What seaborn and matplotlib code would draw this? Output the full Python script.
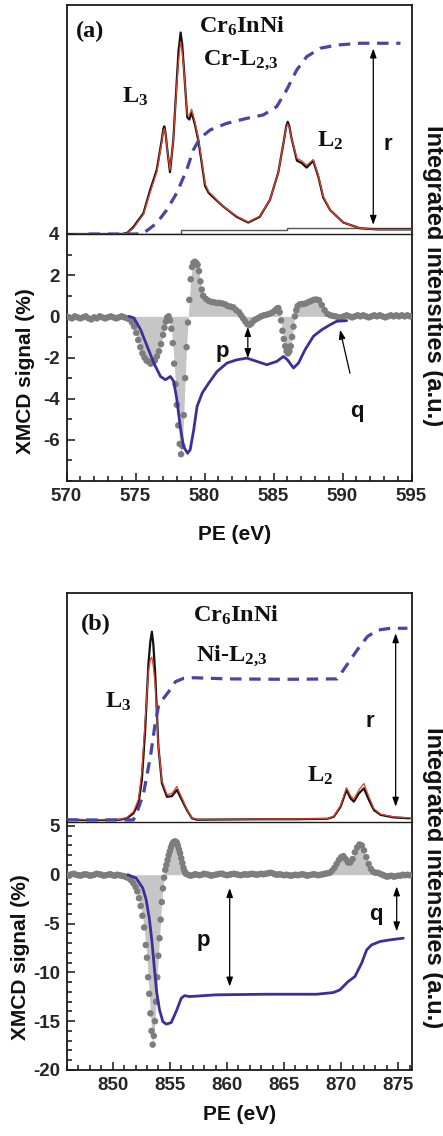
import matplotlib
matplotlib.use("Agg")
import matplotlib.pyplot as plt
from matplotlib.ticker import MultipleLocator, FixedLocator
import seaborn as sns

# ---------------- Cr L2,3 edge ----------------
cr_xas_e = [570.0, 572.0, 574.0, 574.4, 574.84, 575.2, 575.57, 576.05, 576.54, 576.9,
            577.02, 577.09, 577.18, 577.3, 577.5, 577.74, 577.98, 578.12, 578.27, 578.38,
            578.5, 578.75, 578.9, 579.07, 579.3, 579.55, 579.8, 580.04, 580.3, 580.64,
            581.36, 582.33, 583.17, 584.0, 584.75, 585.35, 585.76, 585.92, 586.03, 586.15,
            586.3, 586.7, 587.04, 587.4, 587.88, 588.25, 588.6, 589.1, 590.06, 591.27,
            592.48, 595.0]
cr_xas_black = [0.0, 0.0, 0.0, 0.005, 0.03, 0.06, 0.09, 0.19, 0.28, 0.41,
                0.46, 0.47, 0.44, 0.37, 0.27, 0.41, 0.66, 0.80, 0.88, 0.83,
                0.73, 0.51, 0.50, 0.53, 0.48, 0.41, 0.31, 0.21, 0.18, 0.16,
                0.12, 0.075, 0.05, 0.075, 0.15, 0.27, 0.41, 0.47, 0.49, 0.47,
                0.42, 0.32, 0.31, 0.29, 0.32, 0.25, 0.16, 0.105, 0.05, 0.025,
                0.02, 0.02]
cr_xas_red = [0.0, 0.0, 0.0, 0.004, 0.025, 0.055, 0.085, 0.18, 0.27, 0.40,
              0.45, 0.46, 0.44, 0.37, 0.28, 0.41, 0.64, 0.76, 0.84, 0.80,
              0.72, 0.52, 0.52, 0.545, 0.49, 0.42, 0.32, 0.22, 0.185, 0.165,
              0.12, 0.078, 0.052, 0.078, 0.15, 0.27, 0.41, 0.465, 0.48, 0.465,
              0.42, 0.33, 0.32, 0.30, 0.325, 0.255, 0.165, 0.105, 0.05, 0.025,
              0.02, 0.02]
cr_step_e = [570.0, 578.3, 578.3, 586.0, 586.0, 595.0]
cr_step_v = [0.0, 0.0, 0.017, 0.017, 0.025, 0.025]
cr_int_e = [571.6, 575.0, 575.57, 576.53, 577.26, 577.98, 578.71, 579.19, 579.67, 580.4,
            581.6, 583.06, 584.26, 585.23, 585.95, 586.68, 587.4, 588.37, 589.58, 591.27,
            594.2]
cr_int_v = [0.0, 0.0, 0.003, 0.047, 0.105, 0.178, 0.28, 0.367, 0.418, 0.454,
            0.483, 0.505, 0.52, 0.556, 0.629, 0.716, 0.774, 0.811, 0.825, 0.833,
            0.833]
cr_xmcd_e = [570.0, 570.2, 570.4, 570.6, 570.8, 571.0, 571.2, 571.4, 571.6, 571.8,
             572.0, 572.2, 572.4, 572.6, 572.8, 573.0, 573.2, 573.4, 573.6, 573.8,
             574.0, 574.2, 574.4, 574.6, 574.75, 574.9, 575.05, 575.2, 575.35, 575.5,
             575.65, 575.8, 575.95, 576.1, 576.25, 576.4, 576.55, 576.7, 576.85, 577.0,
             577.1, 577.2, 577.3, 577.4, 577.5, 577.6, 577.7, 577.8, 577.9, 578.0,
             578.1, 578.2, 578.3, 578.4, 578.5, 578.6, 578.7, 578.8, 578.9, 579.0,
             579.1, 579.2, 579.3, 579.4, 579.5, 579.6, 579.7, 579.8, 579.9, 580.1,
             580.3, 580.5, 580.7, 580.9, 581.1, 581.3, 581.5, 581.7, 581.9, 582.1,
             582.3, 582.5, 582.65, 582.8, 582.95, 583.1, 583.25, 583.4, 583.55, 583.7,
             583.9, 584.1, 584.3, 584.5, 584.7, 584.9, 585.1, 585.25, 585.35, 585.45,
             585.55, 585.65, 585.75, 585.85, 585.95, 586.05, 586.15, 586.25, 586.35, 586.45,
             586.55, 586.65, 586.75, 586.9, 587.1, 587.3, 587.5, 587.7, 587.9, 588.1,
             588.3, 588.5, 588.7, 588.9, 589.1, 589.3, 589.5, 589.7, 589.9, 590.1,
             590.3, 590.5, 590.7, 590.9, 591.1, 591.3, 591.5, 591.7, 591.9, 592.1,
             592.3, 592.5, 592.7, 592.9, 593.1, 593.3, 593.5, 593.7, 593.9, 594.1,
             594.3, 594.5, 594.7, 594.9]
cr_xmcd_v = [0.0, -0.05, -0.1, 0.0, -0.05, -0.1, -0.05, 0.0, -0.1, -0.15,
             -0.05, -0.1, 0.0, -0.05, -0.1, -0.05, 0.0, -0.05, -0.1, -0.05,
             0.0, -0.05, -0.1, -0.15, -0.3, -0.5, -0.8, -1.15, -1.5, -1.8,
             -2.0, -2.15, -2.2, -2.3, -2.25, -2.15, -1.95, -1.7, -1.35, -0.9,
             -0.55, -0.25, -0.05, 0.0, -0.2, -0.6, -1.3, -2.3, -3.3, -4.3,
             -5.3, -6.2, -6.7, -6.3, -4.8, -3.0, -1.5, -0.3, 0.8, 1.8,
             2.4, 2.6, 2.65, 2.6, 2.5, 2.2, 1.7, 1.3, 1.0, 0.85,
             0.75, 0.7, 0.68, 0.65, 0.65, 0.62, 0.58, 0.5, 0.47, 0.43,
             0.3, 0.2, 0.05, -0.1, -0.25, -0.38, -0.42, -0.35, -0.22, -0.15,
             -0.08, 0.0, 0.05, 0.08, 0.12, 0.18, 0.28, 0.38, 0.4, 0.2,
             -0.2, -0.7, -1.1, -1.45, -1.7, -1.8, -1.7, -1.45, -1.0, -0.5,
             0.0, 0.3, 0.5, 0.58, 0.6, 0.62, 0.68, 0.74, 0.8, 0.82,
             0.78, 0.55, 0.3, 0.12, 0.06, 0.02, 0.0, -0.05, -0.05, 0.0,
             0.05, 0.0, -0.05, 0.0, 0.05, 0.0, 0.05, 0.0, -0.05, 0.0,
             0.05, 0.0, 0.05, 0.0, -0.05, 0.0, 0.05, 0.0, 0.05, 0.0,
             0.05, 0.0, 0.05, 0.0]
cr_sum_e = [574.53, 574.89, 575.37, 575.85, 576.33, 576.81, 577.17, 577.53, 577.77, 578.0,
            578.24, 578.48, 578.77, 578.96, 579.22, 579.46, 579.83, 580.31, 580.91, 581.63,
            582.35, 583.07, 583.79, 584.52, 585.24, 585.72, 586.01, 586.45, 586.81, 587.29,
            587.89, 588.5, 589.1, 589.58, 590.3]
cr_sum_v = [0.0, -0.08, -0.65, -1.46, -2.27, -2.92, -3.08, -2.92, -3.16, -4.06,
            -5.35, -6.33, -6.65, -6.49, -5.51, -4.38, -3.73, -3.24, -2.68, -2.27,
            -2.11, -2.03, -2.19, -2.35, -2.19, -1.95, -2.11, -2.51, -2.27, -1.62,
            -0.97, -0.65, -0.41, -0.24, -0.21]

# ---------------- Ni L2,3 edge ----------------
ni_xas_e = [846.0, 848.0, 850.0, 850.65, 851.24, 851.82, 852.26, 852.55, 852.84, 853.13,
            853.3, 853.43, 853.55, 853.72, 854.0, 854.31, 854.75, 855.18, 855.62, 856.06,
            856.5, 856.94, 857.38, 860.0, 863.0, 866.0, 868.8, 869.36, 869.95, 870.47,
            870.82, 871.11, 871.55, 871.99, 872.43, 872.87, 873.46, 874.62, 876.0]
ni_xas_black = [0.01, 0.008, 0.009, 0.01, 0.016, 0.038, 0.082, 0.183, 0.40, 0.693,
                0.79, 0.831, 0.78, 0.649, 0.329, 0.169, 0.11, 0.113, 0.14, 0.096,
                0.052, 0.016, 0.01, 0.011, 0.012, 0.012, 0.014, 0.023, 0.067, 0.14,
                0.103, 0.089, 0.125, 0.147, 0.096, 0.052, 0.031, 0.02, 0.016]
ni_xas_red = [0.012, 0.01, 0.01, 0.012, 0.02, 0.045, 0.1, 0.22, 0.44, 0.66,
              0.71, 0.72, 0.68, 0.6, 0.33, 0.18, 0.12, 0.125, 0.155, 0.105,
              0.055, 0.018, 0.012, 0.012, 0.013, 0.013, 0.015, 0.025, 0.072, 0.15,
              0.115, 0.1, 0.14, 0.168, 0.11, 0.058, 0.034, 0.022, 0.018]
ni_int_e = [846.0, 851.8, 852.1, 852.7, 853.3, 853.72, 854.0, 854.45, 854.9, 855.5,
            856.2, 857.1, 860.0, 865.0, 869.66, 870.5, 871.4, 872.3, 873.2, 874.3,
            875.8]
ni_int_v = [0.009, 0.009, 0.038, 0.125, 0.285, 0.431, 0.504, 0.54, 0.569, 0.613,
            0.627, 0.63, 0.625, 0.623, 0.625, 0.686, 0.751, 0.81, 0.838, 0.846,
            0.846]
ni_xmcd_e = [846.0, 846.2, 846.4, 846.6, 846.8, 847.0, 847.2, 847.4, 847.6, 847.8,
             848.0, 848.2, 848.4, 848.6, 848.8, 849.0, 849.2, 849.4, 849.6, 849.8,
             850.0, 850.2, 850.4, 850.6, 850.8, 851.0, 851.2, 851.4, 851.6, 851.8,
             852.0, 852.15, 852.3, 852.45, 852.6, 852.75, 852.9, 853.0, 853.1, 853.2,
             853.3, 853.4, 853.5, 853.6, 853.7, 853.8, 853.9, 854.0, 854.1, 854.2,
             854.3, 854.4, 854.5, 854.6, 854.7, 854.8, 854.9, 855.0, 855.1, 855.2,
             855.3, 855.4, 855.5, 855.6, 855.7, 855.8, 855.9, 856.0, 856.1, 856.2,
             856.3, 856.4, 856.6, 856.8, 857.0, 857.2, 857.4, 857.6, 857.8, 858.0,
             858.2, 858.4, 858.6, 858.8, 859.0, 859.2, 859.4, 859.6, 859.8, 860.0,
             860.2, 860.4, 860.6, 860.8, 861.0, 861.2, 861.4, 861.6, 861.8, 862.0,
             862.2, 862.4, 862.6, 862.8, 863.0, 863.2, 863.4, 863.6, 863.8, 864.0,
             864.2, 864.4, 864.6, 864.8, 865.0, 865.2, 865.4, 865.6, 865.8, 866.0,
             866.2, 866.4, 866.6, 866.8, 867.0, 867.2, 867.4, 867.6, 867.8, 868.0,
             868.2, 868.4, 868.6, 868.8, 869.0, 869.2, 869.4, 869.6, 869.8, 870.0,
             870.2, 870.4, 870.6, 870.8, 871.0, 871.2, 871.4, 871.6, 871.8, 872.0,
             872.2, 872.4, 872.6, 872.8, 873.0, 873.2, 873.4, 873.6, 873.8, 874.0,
             874.2, 874.4, 874.6, 874.8, 875.0, 875.2, 875.4, 875.6, 875.8, 876.0]
ni_xmcd_v = [0.0, -0.1, 0.05, 0.1, 0.0, -0.05, -0.1, 0.0, 0.05, 0.0,
             -0.1, -0.05, 0.0, 0.1, 0.05, 0.0, -0.1, -0.05, 0.0, 0.05,
             -0.05, -0.1, 0.0, -0.05, -0.1, -0.15, -0.25, -0.35, -0.55, -0.85,
             -1.25, -1.7, -2.4, -3.2, -4.2, -5.4, -7.2, -8.5, -10.5, -12.2,
             -14.2, -16.0, -17.4, -16.5, -15.0, -13.0, -10.5, -8.3, -6.5, -4.6,
             -2.8, -1.4, -0.3, 0.5, 1.0, 1.5, 2.0, 2.4, 2.8, 3.1,
             3.3, 3.4, 3.4, 3.3, 3.0, 2.6, 2.2, 1.7, 1.2, 0.7,
             0.35, 0.1, 0.0, -0.1, -0.05, 0.05, 0.0, -0.05, 0.0, 0.1,
             0.05, 0.0, -0.1, -0.05, 0.0, 0.05, 0.1, 0.1, 0.0, -0.05,
             0.0, 0.05, 0.1, 0.05, 0.0, -0.05, 0.0, 0.05, 0.0, 0.05,
             0.1, 0.05, 0.0, 0.05, 0.1, 0.05, 0.1, 0.15, 0.2, 0.15,
             0.05, 0.0, 0.05, 0.0, -0.05, 0.0, -0.05, -0.1, -0.05, 0.0,
             -0.05, 0.0, 0.05, 0.0, -0.1, -0.05, 0.0, 0.05, 0.0, -0.05,
             0.0, 0.05, 0.1, 0.15, 0.2, 0.4, 0.7, 1.1, 1.5, 1.8,
             1.9, 1.6, 1.25, 1.25, 1.6, 2.3, 2.8, 3.1, 3.0, 2.5,
             1.8, 1.1, 0.6, 0.3, 0.2, 0.2, 0.1, 0.0, -0.1, -0.2,
             -0.15, -0.1, -0.2, -0.15, -0.1, -0.1, 0.0, -0.05, 0.0, -0.05]
ni_sum_e = [851.32, 852.05, 852.63, 852.93, 853.22, 853.45, 853.66, 853.86, 854.1, 854.39,
            854.68, 855.12, 855.56, 856.0, 856.29, 856.73, 859.07, 863.46, 867.84, 869.3,
            869.88, 870.61, 871.2, 871.79, 872.23, 872.67, 873.4, 874.28, 875.44]
ni_sum_v = [0.0, -0.34, -1.37, -2.56, -4.6, -7.0, -9.74, -12.1, -13.85, -15.04,
            -15.3, -15.15, -14.0, -12.65, -12.38, -12.48, -12.3, -12.24, -12.24, -12.07,
            -11.8, -10.94, -10.43, -9.06, -7.7, -7.18, -6.84, -6.67, -6.5]

cr_yticks = [-6, -4, -2, 0, 2, 4]
ni_yticks = [-20, -15, -10, -5, 0, 5]

sns.set_theme(style="ticks")
plt.rcParams.update({
    "font.family": ["Liberation Sans", "DejaVu Sans"],
    "font.weight": "bold",
    "axes.unicode_minus": False,
    "mathtext.fontset": "custom",
    "mathtext.rm": "Liberation Serif:bold",
    "mathtext.it": "Liberation Serif:bold",
    "mathtext.bf": "Liberation Serif:bold",
    "mathtext.default": "rm",
    "axes.linewidth": 1.3,
    "axes.edgecolor": "#1a1a1a",
})

W, H = 443, 1136
fig = plt.figure(figsize=(W / 100, H / 100), dpi=100)


def box(left, top, right, bottom):
    return fig.add_axes([left / W, 1 - bottom / H, (right - left) / W, (bottom - top) / H])


BLACK = "#121212"
RED = "#e2412b"
DASH = "#4944a6"
BLUE = "#3a3198"
DOT = "#7d7d7d"
FILL = "#c6c6c6"
SERIF = dict(family="Liberation Serif", weight="bold", fontsize=17.5, color="#111111")
SANS = dict(family="Liberation Sans", weight="bold", fontsize=16, color="#111111")
DBL = dict(arrowstyle="<|-|>,head_length=0.45,head_width=0.16", color="black",
           lw=0.9, shrinkA=0, shrinkB=0)


def line(ax, x, y, **kw):
    sns.lineplot(x=x, y=y, ax=ax, sort=False, estimator=None, legend=False, **kw)


def panel(top_box, bot_box, xlim, ylim, yticks, xas_e, black, red, int_e, int_v,
          xmcd_e, xmcd_v, sum_e, sum_v):
    up = box(*top_box)
    lo = box(*bot_box)

    # upper part: absorption spectra and their running integral
    line(up, xas_e, black, color=BLACK, lw=1.6, zorder=3)
    line(up, xas_e, red, color=RED, lw=0.9, zorder=4)
    line(up, int_e, int_v, color=DASH, lw=2.3, linestyle=(0, (3.6, 2.4)), zorder=5)
    up.set_xlim(*xlim)
    up.set_ylim(0, 1.0)
    up.set_xticks([])
    up.set_yticks([])
    up.set_xlabel("")
    up.set_ylabel("")
    up.spines["bottom"].set_visible(False)

    # lower part: dichroism signal and its running integral
    lo.fill_between(xmcd_e, xmcd_v, 0, color=FILL, lw=0, zorder=1)
    sns.scatterplot(x=xmcd_e, y=xmcd_v, ax=lo, color=DOT, s=22, edgecolor="none",
                    zorder=3, legend=False)
    line(lo, sum_e, sum_v, color=BLUE, lw=2.0, zorder=4)
    lo.set_xlim(*xlim)
    lo.set_ylim(*ylim)
    lo.xaxis.set_major_locator(MultipleLocator(5))
    lo.xaxis.set_minor_locator(MultipleLocator(1))
    lo.yaxis.set_major_locator(FixedLocator(yticks))
    lo.yaxis.set_minor_locator(MultipleLocator(1))
    lo.tick_params(which="both", direction="in", top=False, right=False,
                   labelsize=13.5, width=1.2, pad=5)
    lo.tick_params(which="major", length=6)
    lo.tick_params(which="minor", length=3.5)
    for lab in lo.get_xticklabels() + lo.get_yticklabels():
        lab.set_fontweight("bold")
    lo.spines["top"].set_linewidth(1.0)
    lo.set_xlabel("")
    lo.set_ylabel("")
    return up, lo


# ---- panel (a): Cr ----
up_a, lo_a = panel((66.5, 5, 411.5, 234), (66.5, 234, 411.5, 481), (570, 595), (-8, 4),
                   cr_yticks, cr_xas_e, cr_xas_black, cr_xas_red, cr_int_e, cr_int_v,
                   cr_xmcd_e, cr_xmcd_v, cr_sum_e, cr_sum_v)
line(up_a, cr_step_e, cr_step_v, color="#555555", lw=1.0, zorder=2)
up_a.text(571.7, 0.86, "(a)", ha="center", va="baseline", **SERIF)
up_a.text(582.7, 0.878, "Cr$_6$InNi", ha="center", va="baseline", **SERIF)
up_a.text(582.6, 0.738, "Cr-L$_{2{,}3}$", ha="center", va="baseline", **SERIF)
up_a.text(574.0, 0.572, "L$_3$", ha="left", va="baseline", **SERIF)
up_a.text(588.15, 0.38, "L$_2$", ha="left", va="baseline", **SERIF)
up_a.text(593.3, 0.367, "r", ha="center", va="baseline", **SANS)
up_a.annotate("", xy=(592.23, 0.04), xytext=(592.23, 0.81), arrowprops=DBL)
lo_a.annotate("", xy=(583.14, -2.03), xytext=(583.14, -0.52), arrowprops=DBL)
lo_a.text(581.3, -2.0, "p", ha="center", va="baseline", **SANS)
lo_a.annotate("", xy=(589.82, -0.65), xytext=(590.54, -2.76),
              arrowprops=dict(arrowstyle="-|>,head_length=0.45,head_width=0.16",
                              color="black", lw=0.9, shrinkA=0, shrinkB=0))
lo_a.text(591.05, -4.87, "q", ha="center", va="baseline", **SANS)

# ---- panel (b): Ni ----
up_b, lo_b = panel((67, 593, 412, 822), (67, 822, 412, 1070), (846, 876.2), (-20, 5.4),
                   ni_yticks, ni_xas_e, ni_xas_black, ni_xas_red, ni_int_e, ni_int_v,
                   ni_xmcd_e, ni_xmcd_v, ni_sum_e, ni_sum_v)
up_b.text(848.5, 0.838, "(b)", ha="center", va="baseline", **SERIF)
up_b.text(860.85, 0.875, "Cr$_6$InNi", ha="center", va="baseline", **SERIF)
up_b.text(860.4, 0.707, "Ni-L$_{2{,}3}$", ha="center", va="baseline", **SERIF)
up_b.text(849.3, 0.498, "L$_3$", ha="left", va="baseline", **SERIF)
up_b.text(867.0, 0.176, "L$_2$", ha="left", va="baseline", **SERIF)
up_b.text(872.5, 0.416, "r", ha="center", va="baseline", **SANS)
up_b.annotate("", xy=(874.77, 0.067), xytext=(874.77, 0.824), arrowprops=DBL)
lo_b.annotate("", xy=(860.24, -11.45), xytext=(860.24, -1.37), arrowprops=DBL)
lo_b.text(857.9, -7.35, "p", ha="center", va="baseline", **SANS)
lo_b.annotate("", xy=(874.86, -5.8), xytext=(874.86, -1.2), arrowprops=DBL)
lo_b.text(873.05, -4.6, "q", ha="center", va="baseline", **SANS)

# ---- axis titles ----
LAB = dict(family="Liberation Sans", weight="bold", color="#111111")
for yc, xl in ((371, 26), (957, 21)):
    fig.text(xl / W, 1 - yc / H, "XMCD signal (%)", rotation=90, ha="center",
             va="center", fontsize=15, **LAB)
for yc, xp in ((535, 235), (1115, 240)):
    fig.text(xp / W, 1 - yc / H, "PE (eV)", ha="center", va="center", fontsize=15, **LAB)
for yc in (276, 878):
    fig.text(433 / W, 1 - yc / H, "Integrated intensities (a.u.)", rotation=270,
             ha="center", va="center", fontsize=17, **LAB)

fig.savefig("out.png", dpi=100, facecolor="white")
